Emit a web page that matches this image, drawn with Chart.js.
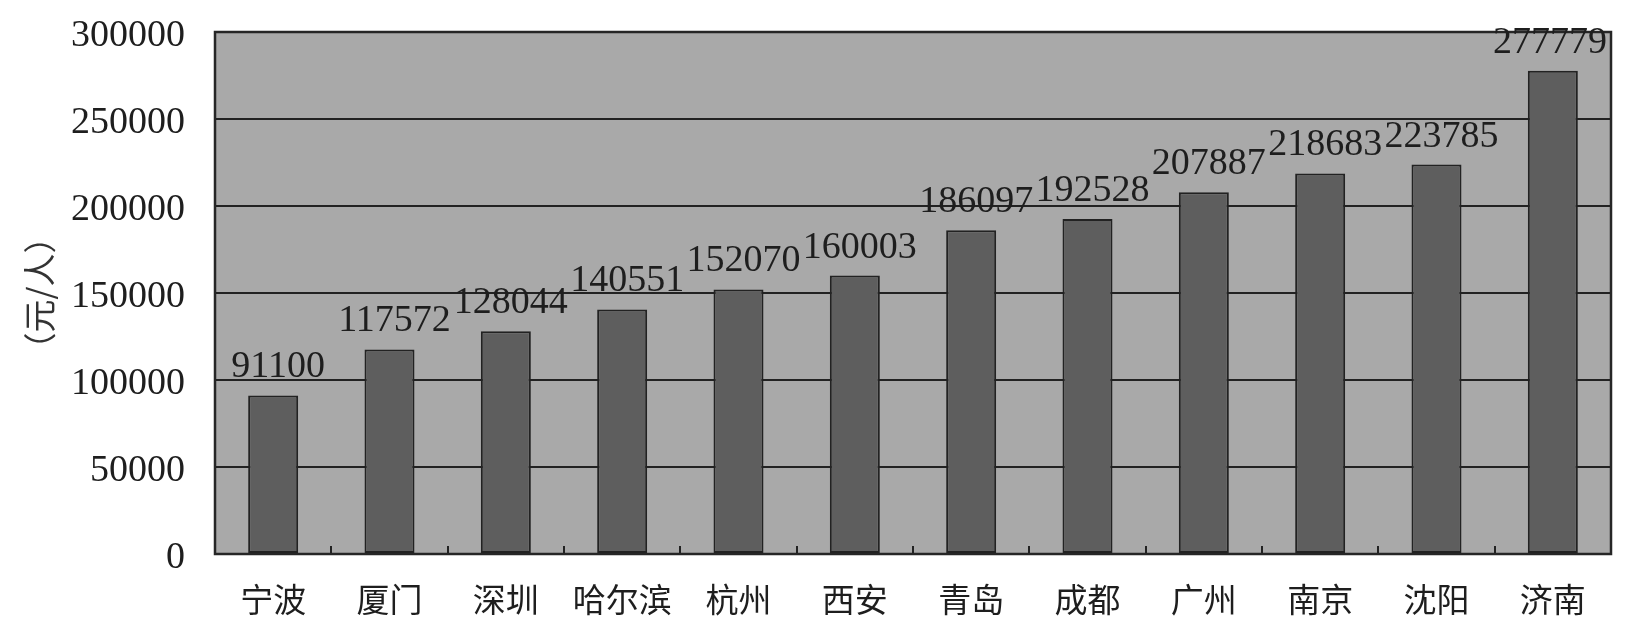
<!DOCTYPE html>
<html>
<head>
<meta charset="utf-8">
<script src="https://cdn.jsdelivr.net/npm/chart.js@4/dist/chart.umd.min.js"></script>
<style>
  html, body { margin: 0; padding: 0; background: #ffffff; }
  #wrap { width: 1629px; height: 634px; }
</style>
</head>
<body>
<div id="wrap"><canvas id="c" width="1629" height="634"></canvas></div>
<script>
const categories = ["宁波", "厦门", "深圳", "哈尔滨", "杭州", "西安", "青岛", "成都", "广州", "南京", "沈阳", "济南"];
const values = [91100, 117572, 128044, 140551, 152070, 160003, 186097, 192528, 207887, 218683, 223785, 277779];
const yTitle = "（元/人）";
const yMin = 0;
const yMax = 300000;
const yStep = 50000;

const plotBg = {
  id: 'plotBg',
  beforeDraw(chart) {
    const { ctx, chartArea: a } = chart;
    ctx.save();
    ctx.fillStyle = '#a9a9a9';
    ctx.fillRect(a.left, a.top, a.right - a.left, a.bottom - a.top);
    ctx.restore();
  },
  afterDatasetsDraw(chart) {
    const { ctx, chartArea: a } = chart;
    const xs = chart.scales.x;
    ctx.save();
    ctx.strokeStyle = '#222222';
    ctx.lineWidth = 2;
    const n = categories.length;
    for (let i = 1; i < n; i++) {
      const px = (xs.getPixelForValue(i - 1) + xs.getPixelForValue(i)) / 2;
      ctx.beginPath();
      ctx.moveTo(Math.round(px), a.bottom);
      ctx.lineTo(Math.round(px), a.bottom - 8);
      ctx.stroke();
    }
    ctx.strokeStyle = '#262626';
    ctx.lineWidth = 2.5;
    ctx.strokeRect(a.left, a.top, a.right - a.left, a.bottom - a.top);
    const meta = chart.getDatasetMeta(0);
    ctx.fillStyle = '#1e1e1e';
    ctx.font = '38px "Liberation Serif", "DejaVu Serif", serif';
    ctx.textAlign = 'center';
    ctx.textBaseline = 'alphabetic';
    meta.data.forEach((bar, i) => {
      const tw = ctx.measureText(String(values[i])).width;
      let cx = bar.x + 5;
      if (cx + tw / 2 > a.right - 4) cx = a.right - 4 - tw / 2;
      ctx.fillText(String(values[i]), cx, bar.y - 18);
    });
    ctx.restore();
  }
};

new Chart(document.getElementById('c'), {
  type: 'bar',
  data: {
    labels: categories,
    datasets: [{
      data: values,
      backgroundColor: '#5e5e5e',
      borderColor: '#222222',
      borderWidth: 2,
      borderSkipped: false,
      barPercentage: 0.43,
      categoryPercentage: 1.0
    }]
  },
  options: {
    responsive: false,
    animation: false,
    events: [],
    layout: { padding: { left: 0, right: 18, top: 32, bottom: 0 } },
    plugins: {
      legend: { display: false },
      tooltip: { enabled: false }
    },
    scales: {
      x: {
        grid: { display: false, drawTicks: false },
        border: { display: false },
        ticks: {
          color: '#1e1e1e',
          padding: 26,
          font: { family: '"Noto Sans CJK SC", sans-serif', size: 33 },
          maxRotation: 0,
          autoSkip: false
        },
        afterFit(scale) { scale.height = 80; scale.paddingLeft = 0; scale.paddingRight = 0; }
      },
      y: {
        min: yMin,
        max: yMax,
        grid: { color: '#222222', lineWidth: 2, drawTicks: false },
        border: { display: false },
        ticks: {
          stepSize: yStep,
          color: '#1e1e1e',
          padding: 30,
          labelOffset: 4,
          font: { family: '"Liberation Serif", "DejaVu Serif", serif', size: 38 },
          callback: v => String(v)
        },
        title: {
          display: true,
          text: yTitle,
          color: '#333333',
          font: { family: '"Noto Sans CJK SC", sans-serif', size: 33 },
          padding: { top: 20, bottom: 0 }
        },
        afterFit(scale) { scale.width = 215; scale.paddingTop = 0; scale.paddingBottom = 0; }
      }
    }
  },
  plugins: [plotBg]
});
</script>
</body>
</html>
